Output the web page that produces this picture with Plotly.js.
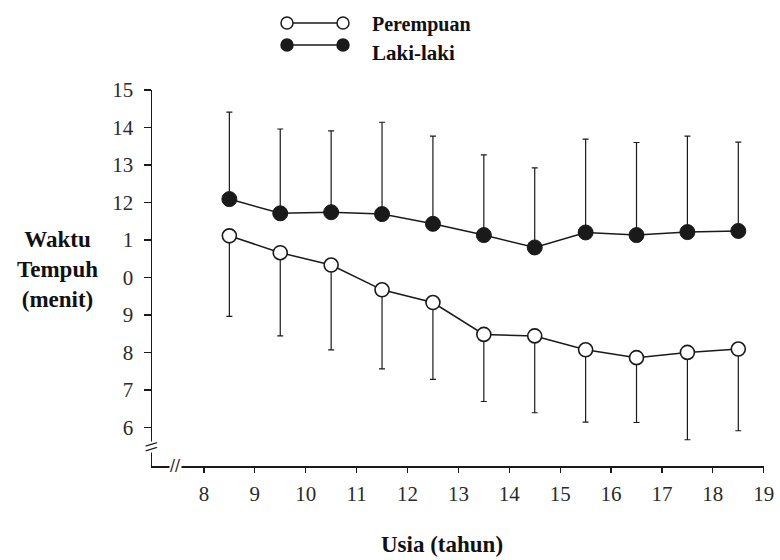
<!DOCTYPE html>
<html>
<head>
<meta charset="utf-8">
<script src="https://cdn.plot.ly/plotly-3.0.1.min.js"></script>
<style>html,body{margin:0;padding:0;background:#fff;}#chart{width:780px;height:560px;}</style>
</head>
<body>
<div id="chart"></div>
<script>
// Age midpoints (years)
const usia = [8.5, 9.5, 10.5, 11.5, 12.5, 13.5, 14.5, 15.5, 16.5, 17.5, 18.5];
// Laki-laki (filled): mean and upper end of the error bar (minutes)
const lakiMean  = [12.09, 11.71, 11.74, 11.69, 11.43, 11.13, 10.80, 11.20, 11.13, 11.21, 11.24];
const lakiUpper = [14.41, 13.96, 13.91, 14.14, 13.77, 13.27, 12.92, 13.69, 13.60, 13.77, 13.61];
// Perempuan (open): mean and lower end of the error bar (minutes)
const perMean  = [11.11, 10.66, 10.33, 9.67, 9.33, 8.48, 8.44, 8.07, 7.86, 8.00, 8.09];
const perLower = [8.96, 8.44, 8.07, 7.56, 7.28, 6.69, 6.39, 6.14, 6.13, 5.67, 5.91];
// Tick values and labels as printed
const xTickVals = [8, 9, 10, 11, 12, 13, 14, 15, 16, 17, 18, 19];
const xTickText = ["8", "9", "10", "11", "12", "13", "14", "15", "16", "17", "18", "19"];
const yTickVals = [6, 7, 8, 9, 10, 11, 12, 13, 14, 15];
const yTickText = ["6", "7", "8", "9", "0", "1", "12", "13", "14", "15"];

const ink = '#1a1a1a';
const zeros = usia.map(() => 0);

const traces = [
  {
    x: usia, y: perMean, type: 'scatter', mode: 'lines+markers', name: 'Perempuan',
    line: {color: ink, width: 1.5},
    marker: {symbol: 'circle', size: 14, color: '#ffffff', line: {color: ink, width: 1.6}},
    error_y: {type: 'data', symmetric: false,
      array: zeros,
      arrayminus: perMean.map((m, i) => m - perLower[i]),
      color: ink, thickness: 1.2, width: 3},
    showlegend: false, hoverinfo: 'x+y'
  },
  {
    x: usia, y: lakiMean, type: 'scatter', mode: 'lines+markers', name: 'Laki-laki',
    line: {color: ink, width: 1.5},
    marker: {symbol: 'circle', size: 15, color: ink, line: {color: ink, width: 1}},
    error_y: {type: 'data', symmetric: false,
      array: lakiUpper.map((u, i) => u - lakiMean[i]),
      arrayminus: zeros,
      color: ink, thickness: 1.2, width: 3},
    showlegend: false, hoverinfo: 'x+y'
  }
];

const tickFont = {family: '"Liberation Serif", "Times New Roman", serif', size: 21, color: '#2a2a2a'};
const boldFamily = '"Liberation Serif", "Times New Roman", serif';
const boldFont = {family: boldFamily, size: 23, color: '#111'};

// legend geometry in paper coordinates
const lgX1 = 0.2206, lgX2 = 0.3121, lgYOpen = 1.178, lgYFill = 1.1197;
function circ(xc, yc, filled) {
  return {type: 'circle', xref: 'paper', yref: 'paper', xsizemode: 'pixel', ysizemode: 'pixel',
    xanchor: xc, yanchor: yc, x0: -6, x1: 6, y0: -6, y1: 6,
    line: {color: ink, width: 1.5}, fillcolor: filled ? ink : '#ffffff'};
}

const layout = {
  width: 780, height: 560,
  margin: {l: 152, r: 16, t: 90, b: 94},
  paper_bgcolor: '#ffffff', plot_bgcolor: '#ffffff',
  showlegend: false,
  xaxis: {
    range: [6.98, 19.005], tickvals: xTickVals, ticktext: xTickText,
    showgrid: false, zeroline: false, showline: true, linecolor: ink, linewidth: 1.5,
    ticks: 'outside', ticklen: 5, tickwidth: 1.3, tickcolor: ink,
    tickfont: tickFont, ticklabelstandoff: 3, fixedrange: true
  },
  yaxis: {
    range: [4.97, 15.0], tickvals: yTickVals, ticktext: yTickText,
    showgrid: false, zeroline: false, showline: true, linecolor: ink, linewidth: 1.5,
    ticks: 'outside', ticklen: 7, tickwidth: 1.3, tickcolor: ink,
    tickfont: tickFont, ticklabelstandoff: 6, fixedrange: true
  },
  shapes: [
    {type: 'line', xref: 'paper', yref: 'paper', x0: 0.2304, x1: 0.3023, y0: lgYOpen, y1: lgYOpen,
      line: {color: ink, width: 1.4}},
    {type: 'line', xref: 'paper', yref: 'paper', x0: 0.2304, x1: 0.3023, y0: lgYFill, y1: lgYFill,
      line: {color: ink, width: 1.4}},
    circ(lgX1, lgYOpen, false), circ(lgX2, lgYOpen, false),
    circ(lgX1, lgYFill, true), circ(lgX2, lgYFill, true)
  ],
  annotations: [
    {text: '<b>Perempuan</b>', xref: 'paper', yref: 'paper', x: 0.3562, y: 1.1729, xanchor: 'left', yanchor: 'middle',
      showarrow: false, font: {family: boldFamily, size: 20, color: '#111'}},
    {text: '<b>Laki-laki</b>', xref: 'paper', yref: 'paper', x: 0.3562, y: 1.0985, xanchor: 'left', yanchor: 'middle',
      showarrow: false, font: {family: boldFamily, size: 21, color: '#111'}},
    {text: '<b>Waktu<br>Tempuh<br>(menit)</b>', xref: 'paper', yref: 'paper', x: -0.1552, y: 0.5213,
      xanchor: 'center', yanchor: 'middle', align: 'center', showarrow: false, font: boldFont},
    {text: '<b>Usia (tahun)</b>', xref: 'paper', yref: 'paper', x: 0.4739, y: -0.2101,
      xanchor: 'center', yanchor: 'middle', showarrow: false, font: {family: boldFamily, size: 23, color: '#111'}},
    // axis break marks
    {text: '//', xref: 'paper', yref: 'paper', x: 0.0376, y: 0, xanchor: 'center', yanchor: 'middle',
      showarrow: false, bgcolor: '#ffffff', borderpad: 0,
      font: {family: 'DejaVu Sans, sans-serif', size: 15, color: ink}},
    {text: '\\\\', xref: 'paper', yref: 'paper', x: 0, y: 0.0505, xanchor: 'center', yanchor: 'middle',
      textangle: 90, showarrow: false, bgcolor: '#ffffff', borderpad: 0,
      font: {family: 'DejaVu Sans, sans-serif', size: 14, color: ink}}
  ]
};

Plotly.newPlot('chart', traces, layout, {displayModeBar: false, staticPlot: true});
</script>
</body>
</html>
